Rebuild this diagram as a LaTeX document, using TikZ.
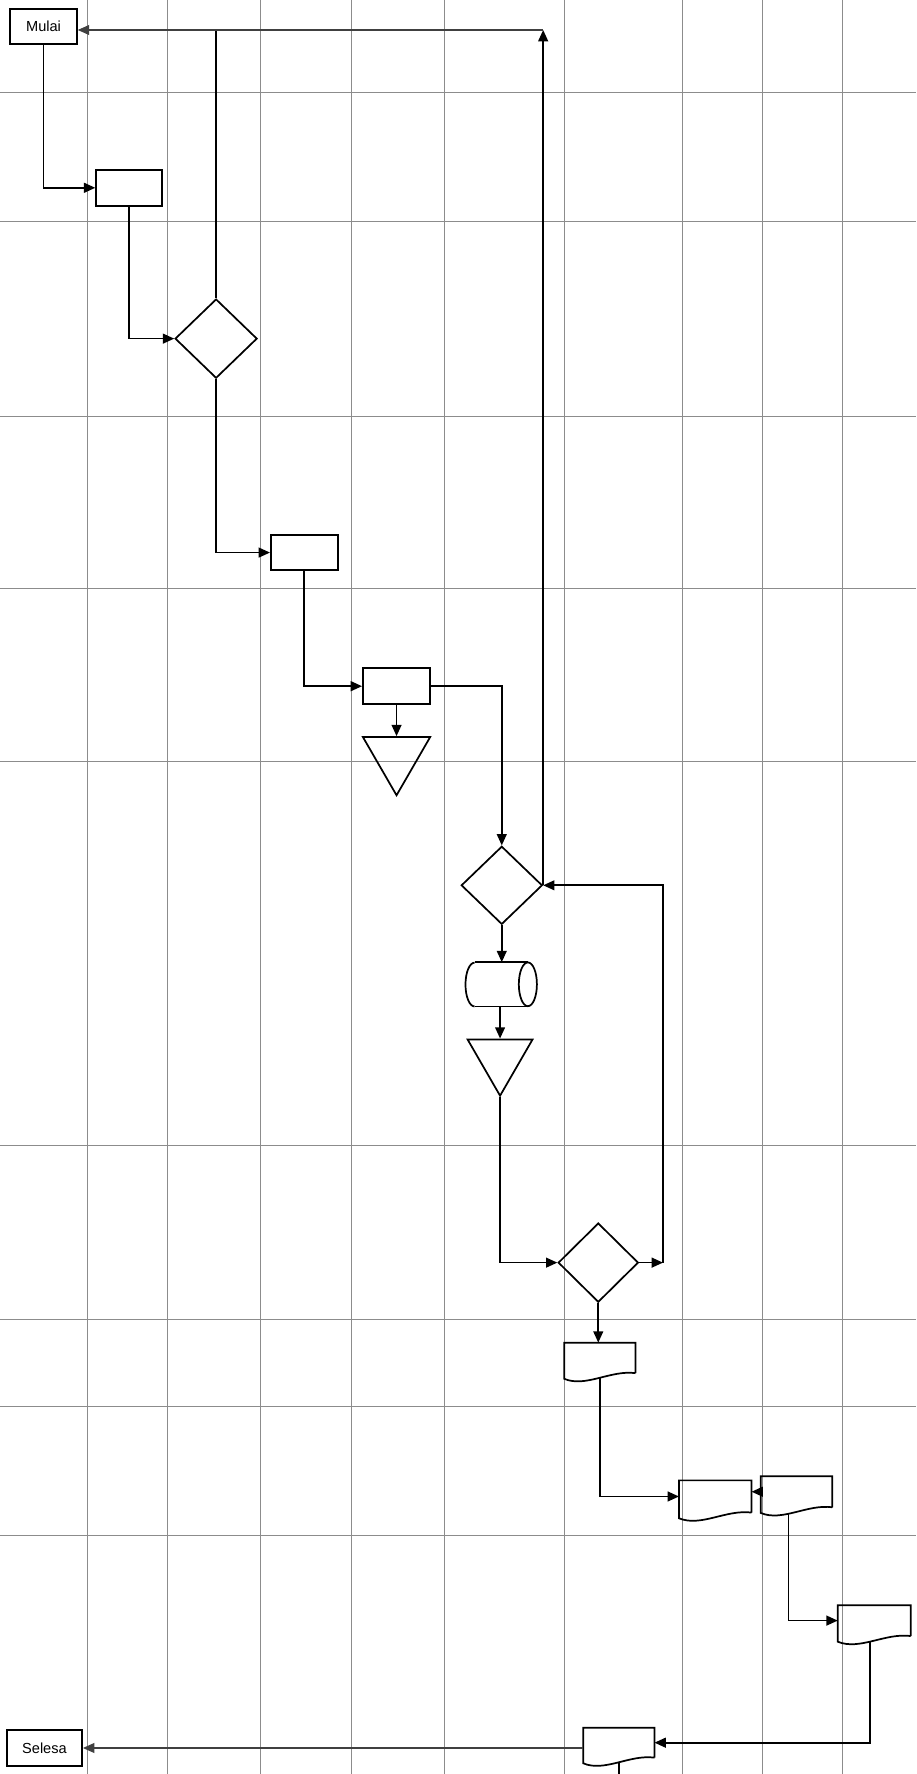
\documentclass[tikz,border=0pt]{standalone}
\usepackage{fontspec}
\setmainfont{Liberation Sans}
\usetikzlibrary{shapes.geometric,arrows.meta,calc}
\newcommand{\docoutline}[1]{%
  \draw[shp] (#1.south east) -- (#1.north east) -- (#1.north west) -- ($(#1.south west)+(0,5)$)
    .. controls ($(#1.south west)!0.3!(#1.south east)+(0,13)$) and ($(#1.south west)!0.65!(#1.south east)+(0,-3)$) .. (#1.south east);}
\newcommand{\cyloutline}[1]{%
  \draw[shp] ($(#1.north west)+(8,0)$) -- ($(#1.north east)+(-8,0)$);
  \draw[shp] ($(#1.south west)+(8,0)$) -- ($(#1.south east)+(-8,0)$);
  \draw[shp] ($(#1.east)+(-8,0)$) ellipse [x radius=8, y radius=19.35];
  \draw[shp] ($(#1.south west)+(8,0)$) arc [start angle=90, end angle=270, x radius=8, y radius=19.35];}
\begin{document}
\begin{tikzpicture}[x=0.3mm,y=-0.3mm,
  gridline/.style={line width=0.6pt,black!45},
  shp/.style={line width=1.3pt,black},
  conn/.style={line width=1.3pt,black,-{Triangle[length=3mm,width=2.6mm]}},
  plainline/.style={line width=1.3pt,black},
  thinconn/.style={line width=0.8pt,black!75,-{Triangle[length=3mm,width=2.6mm]}},
  rectnode/.style={draw,shp,rectangle,inner sep=0pt},
  termnode/.style={rectnode,font=\fontsize{11}{13}\selectfont},
  dia/.style={draw,shp,diamond,inner sep=0pt},
  tri/.style={draw,shp,regular polygon,regular polygon sides=3,shape border rotate=180,inner sep=0pt},
  docnode/.style={inner sep=0pt,rectangle},
  storenode/.style={inner sep=0pt,rectangle}
]
\fill[white] (0,0) rectangle (810,1568);
\useasboundingbox (0,0) rectangle (810,1568);
% grid
\foreach \gx in {77,148,230,311,393,499,603,674,745}
  \draw[gridline] (\gx,0) -- (\gx,1568);
\foreach \gy in {82,196,368,520,673,1012,1166,1243,1357}
  \draw[gridline] (0,\gy) -- (810,\gy);
% nodes
\node[termnode,minimum width=17.7mm,minimum height=9.2mm] (mulai) at (38.5,23.6) {Mulai};
\node[rectnode,minimum width=17.4mm,minimum height=9.6mm] (box1) at (114,166) {};
\node[dia,minimum width=21.75mm,minimum height=21mm] (d1) at (191,299.3) {};
\node[rectnode,minimum width=17.76mm,minimum height=9.36mm] (box2) at (269,488.4) {};
\node[rectnode,minimum width=17.85mm,minimum height=9.63mm] (box3) at (350.5,606.5) {};
\node[tri,minimum size=20.6mm] (tri1) at (350.5,668.6) {};
\node[dia,minimum width=21.5mm,minimum height=20.7mm] (d2) at (443.5,782.5) {};
\node[storenode,minimum width=18.8mm,minimum height=11.6mm] (cyl) at (443,870) {};
\node[tri,minimum size=19.9mm] (tri2) at (442,935.3) {};
\node[dia,minimum width=21.25mm,minimum height=21mm] (d3) at (528.8,1116) {};
\node[docnode,minimum width=18.75mm,minimum height=7.95mm] (doc1) at (530.2,1200.2) {};
\node[docnode,minimum width=19.1mm,minimum height=8.4mm] (doc2) at (632.2,1322.7) {};
\node[docnode,minimum width=18.85mm,minimum height=8.1mm] (doc3) at (704,1318.5) {};
\node[docnode,minimum width=19.2mm,minimum height=8.04mm] (doc4) at (772.7,1432.4) {};
\node[docnode,minimum width=18.75mm,minimum height=7.8mm] (doc5) at (547,1540.3) {};
\node[termnode,minimum width=19.95mm,minimum height=9.6mm] (selesa) at (39.3,1545) {Selesa};
\cyloutline{cyl}
\docoutline{doc1}
\docoutline{doc2}
\docoutline{doc3}
\docoutline{doc4}
\docoutline{doc5}
% helper coordinates
\coordinate (topy) at (0,26.5);
\coordinate (ret) at (d2.east |- topy);
\coordinate (loop) at (586,1116);
\coordinate (pageend) at (547,1568);
% connectors
\draw[conn] (mulai.south) |- (box1.west);
\draw[conn] (box1.south) |- (d1.west);
\draw[plainline] (d1.north) -- (d1.north |- ret);
\draw[conn] (d1.south) |- (box2.west);
\draw[conn] (box2.south) |- (box3.west);
\draw[conn] (box3.south) -- (tri1.north);
\draw[conn] (box3.east) -| (d2.north);
\draw[conn] (d2.east) -- (ret);
\draw[thinconn] (ret) -- (ret -| mulai.east);
\draw[conn] (d2.south) -- (d2.south |- cyl.north);
\draw[conn] (tri2.north |- cyl.south) -- (tri2.north);
\draw[conn] (tri2.south) |- (d3.west);
\draw[conn] (d3.east) -- (loop);
\draw[conn] (loop) |- (d2.east);
\draw[conn] (d3.south) -- (d3.south |- doc1.north);
\draw[conn] ($(doc1.south)+(0,4.4)$) |- (doc2.west);
\draw[conn] (doc3.west) -- (doc3.west -| doc2.east);
\draw[conn] ($(doc3.south)+(-7,5)$) |- (doc4.west);
\draw[conn] ($(doc4.south)+(-3.7,4.6)$) |- (doc5.east);
\draw[plainline] ($(doc5.south)+(0,4.4)$) -- (pageend);
\draw[thinconn] (selesa.east -| doc5.west) -- (selesa.east);
\end{tikzpicture}
\end{document}
